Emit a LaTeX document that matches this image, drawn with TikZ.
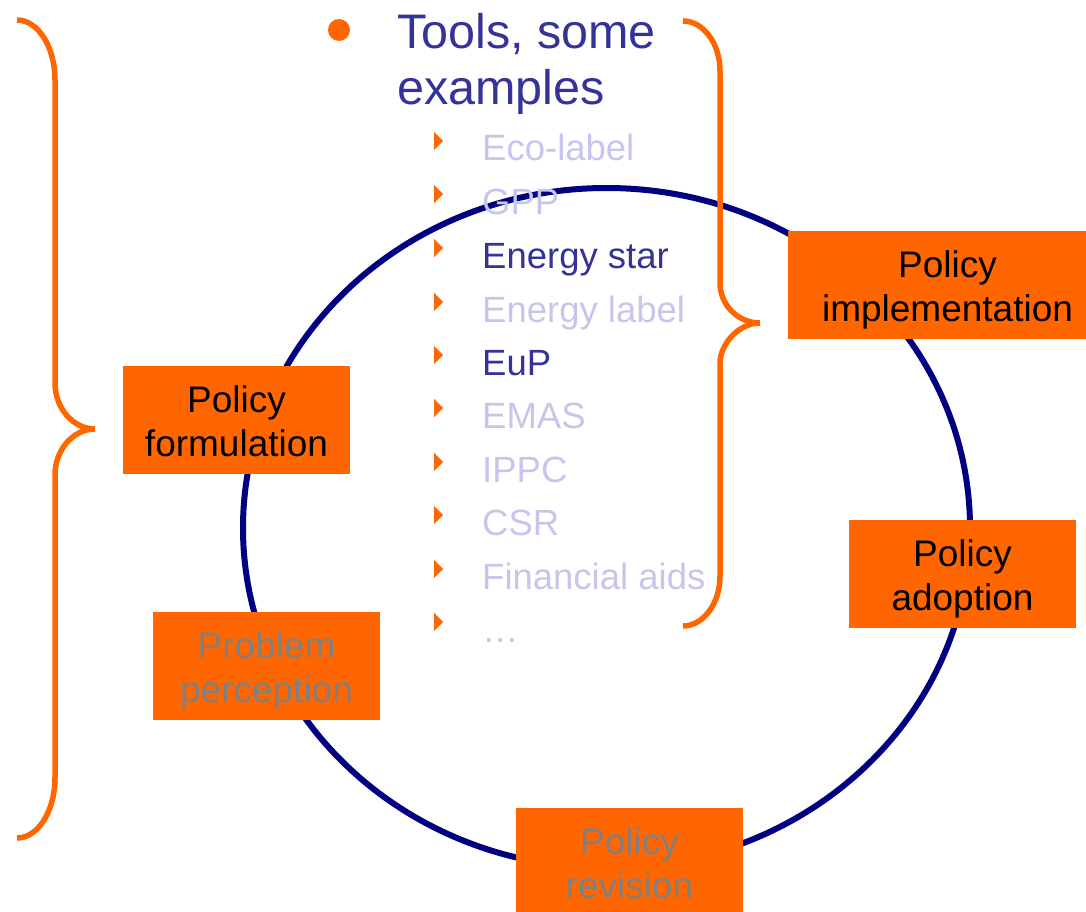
\documentclass[tikz,border=0pt]{standalone}
\usepackage{fontspec}
\setmainfont{Liberation Sans}
\definecolor{orng}{RGB}{255,102,0}
\definecolor{navyring}{RGB}{0,0,128}
\definecolor{darkblue}{RGB}{51,51,153}
\definecolor{lightblue}{RGB}{198,198,236}
\definecolor{greytext}{RGB}{128,128,128}
\newcommand\bxstrut{\rule[-7pt]{0pt}{43pt}}
\tikzset{
  stagebox/.style={fill=orng, inner sep=0pt, minimum width=227pt, minimum height=108pt,
    align=center, font=\fontsize{37}{44}\selectfont},
  itemtext/.style={anchor=base west, inner sep=0pt, font=\fontsize{36.5}{44}\selectfont},
  titletext/.style={anchor=base west, inner sep=0pt, text=darkblue, font=\fontsize{48.5}{56}\selectfont},
  bracestyle/.style={draw=orng, line width=5.5pt},
  ringstyle/.style={draw=navyring, line width=6pt},
}
\begin{document}
\begin{tikzpicture}[x=1pt,y=-1pt]
\useasboundingbox (0,0) rectangle (1086,912);
% ring
\draw[ringstyle] (606.5,528) ellipse [x radius=363.5pt, y radius=340pt];
% title
\fill[orng] (339,30) circle (11pt);
\node[titletext] (t1) at (397,49) {Tools, some};
\node[titletext] (t2) at (397,105) {examples};
% items
\foreach \yb/\txt/\col [count=\i] in {161/Eco-label/lightblue, 214/GPP/lightblue, 268/Energy star/darkblue, 322/Energy label/lightblue, 375/EuP/darkblue, 428/EMAS/lightblue, 482/IPPC/lightblue, 535/CSR/lightblue, 589/Financial aids/lightblue, 642/…/lightblue}{
  \fill[orng] (434,\yb-29) -- (443,\yb-20) -- (434,\yb-11) -- cycle;
  \node[itemtext, text=\col] (item\i) at (482,\yb) {\txt};
}
% braces
\draw[bracestyle] (17,20) .. controls (38,20) and (55,47) .. (55,80) -- (55,383)
  .. controls (55,408) and (73,429) .. (95,429)
  .. controls (73,429) and (55,450) .. (55,475) -- (55,778)
  .. controls (55,811) and (38,838) .. (17,838);
\draw[bracestyle] (683,21) .. controls (703,21) and (720,43) .. (720,71) -- (720,283)
  .. controls (720,305) and (738,323) .. (760,323)
  .. controls (738,323) and (720,345) .. (720,363) -- (720,576)
  .. controls (720,604) and (703,626) .. (683,626);
% stage boxes
\node[stagebox, text=black] (form) at (236.5,420) {\bxstrut Policy\\\bxstrut formulation};
\node[stagebox, text=black, minimum width=319pt] (impl) at (947.5,285) {\bxstrut Policy\\\bxstrut implementation};
\node[stagebox, text=black] (adop) at (962.5,574) {\bxstrut Policy\\\bxstrut adoption};
\node[stagebox, text=greytext] (prob) at (266.5,666) {\bxstrut Problem\\\bxstrut perception};
\node[stagebox, text=greytext] (revi) at (629.5,862) {\bxstrut Policy\\\bxstrut revision};
\end{tikzpicture}
\end{document}
